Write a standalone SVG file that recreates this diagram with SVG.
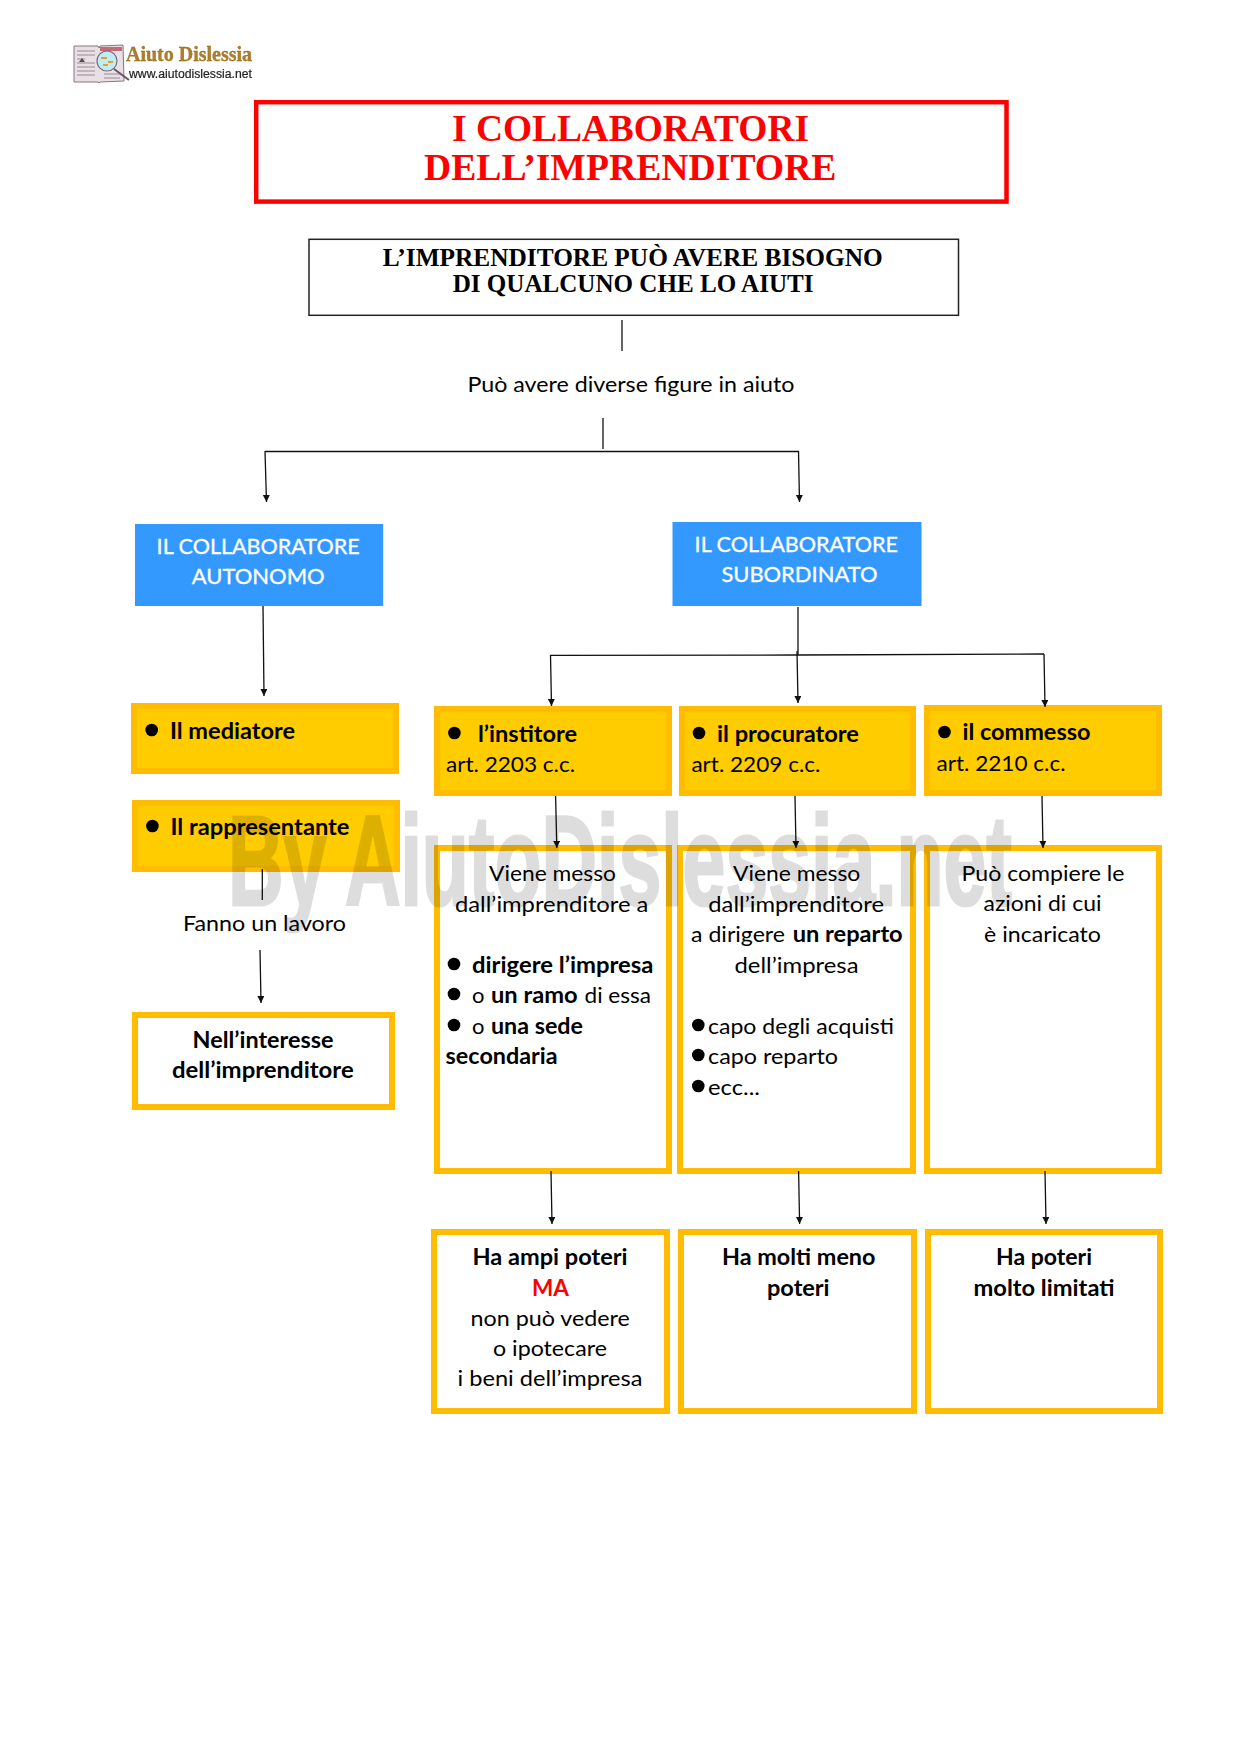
<svg xmlns="http://www.w3.org/2000/svg" width="1238" height="1751" viewBox="0 0 1238 1751">
<style>
text{font-family:"Lato","Carlito","Liberation Sans",sans-serif;font-size:22px;fill:#000}
.b{font-weight:700}
.w{fill:#fff;stroke:#fff;stroke-width:.35}
.r{font-family:"Liberation Serif","Times New Roman",serif;font-weight:700}
.t{font-size:38px;fill:#f00}
.s{font-size:25px}
.y{fill:#fc0;stroke:#ffbc00;stroke-width:6}
.f{fill:#fff;stroke:#ffbc00;stroke-width:6}
.l{fill:none;stroke:#111;stroke-width:1.3}
.a{fill:none;stroke:#111;stroke-width:1.3;marker-end:url(#h)}
</style>
<defs>
<marker id="h" markerUnits="userSpaceOnUse" markerWidth="8" markerHeight="8" refX="7" refY="3.5" orient="auto"><path d="M0 0L7 3.5L0 7z" fill="#111"/></marker>
<filter id="soft"><feGaussianBlur stdDeviation="0.35"/></filter>
</defs>
<rect width="1238" height="1751" fill="#fff"/>

<g id="logo" filter="url(#soft)">
<path d="M74 46L98 46L99 48L100 46L123 45L124 81L100 82L99 83L98 82L74 82z" fill="#e8e0e4" stroke="#8a7280" stroke-width="1"/>
<path d="M77 51h18M77 55h18M77 59h8M77 63h18M77 67h18M77 71h18M77 75h18M103 50h17M104 74h16M104 78h16" stroke="#9a8a92" stroke-width="1"/>
<path d="M100 47h22v4h-22z" fill="#c56b78"/>
<path d="M79 62l3-4l3 4z" fill="#5a4a52"/>
<circle cx="107" cy="61" r="10" fill="#bfeef2" stroke="#7a6a7a" stroke-width="1.2"/>
<path d="M101 58h6M108 62h5M103 65h5" stroke="#e0a030" stroke-width="2"/>
<path d="M114 69L129 80" stroke="#70506a" stroke-width="2"/>
<text x="126" y="61" class="r" style="font-size:21px;fill:#b07e28;stroke:#8a5c18;stroke-width:.3" textLength="126" lengthAdjust="spacingAndGlyphs">Aiuto Dislessia</text>
<text x="129" y="78" style="font-family:'Liberation Sans',sans-serif;font-size:12px;fill:#222;stroke:#222;stroke-width:.2" textLength="123" lengthAdjust="spacingAndGlyphs">www.aiutodislessia.net</text>
</g>

<g id="title">
<rect x="256.2" y="102.2" width="750.3" height="99.4" fill="#fff" stroke="#f00" stroke-width="4.5"/>
<text x="452" y="140.7" class="r t" textLength="357" lengthAdjust="spacingAndGlyphs">I COLLABORATORI</text>
<text x="424" y="180" class="r t" textLength="412.5" lengthAdjust="spacingAndGlyphs">DELL’IMPRENDITORE</text>
</g>

<g id="intro">
<rect x="309" y="239.3" width="649.5" height="76" fill="#fff" stroke="#222" stroke-width="1.5"/>
<text x="382.8" y="266" class="r s" textLength="500" lengthAdjust="spacingAndGlyphs">L’IMPRENDITORE PUÒ AVERE BISOGNO</text>
<text x="452.7" y="292" class="r s" textLength="360.8" lengthAdjust="spacingAndGlyphs">DI QUALCUNO CHE LO AIUTI</text>
</g>

<g id="label-figure"><text x="467.4" y="391.7" textLength="327" lengthAdjust="spacingAndGlyphs">Può avere diverse figure in aiuto</text></g>

<g id="autonomo">
<rect x="135" y="524" width="248.2" height="82" fill="#39f"/>
<text x="156.6" y="554" class="w" textLength="203" lengthAdjust="spacingAndGlyphs">IL COLLABORATORE</text>
<text x="191.8" y="583.6" class="w" textLength="132.8" lengthAdjust="spacingAndGlyphs">AUTONOMO</text>
</g>
<g id="subordinato">
<rect x="672.5" y="522" width="249" height="84" fill="#39f"/>
<text x="694.6" y="552" class="w" textLength="203.3" lengthAdjust="spacingAndGlyphs">IL COLLABORATORE</text>
<text x="721.4" y="581.7" class="w" textLength="156.1" lengthAdjust="spacingAndGlyphs">SUBORDINATO</text>
</g>

<g id="mediatore">
<rect x="134" y="706" width="262" height="65" class="y"/>
<circle cx="151.7" cy="730" r="6.3"/>
<text x="170" y="738.7" class="b" textLength="125" lengthAdjust="spacingAndGlyphs">Il mediatore</text>
</g>
<g id="rappresentante">
<rect x="135" y="803" width="262" height="66" class="y"/>
<circle cx="152.4" cy="826" r="6.3"/>
<text x="170.5" y="834.7" class="b" textLength="179" lengthAdjust="spacingAndGlyphs">Il rappresentante</text>
</g>
<g id="label-lavoro"><text x="183" y="931" textLength="163" lengthAdjust="spacingAndGlyphs">Fanno un lavoro</text></g>
<g id="interesse">
<rect x="135" y="1015" width="257" height="92" class="f"/>
<text x="192.6" y="1048" class="b" textLength="140.9" lengthAdjust="spacingAndGlyphs">Nell’interesse</text>
<text x="172" y="1078" class="b" textLength="181.7" lengthAdjust="spacingAndGlyphs">dell’imprenditore</text>
</g>

<g id="institore">
<rect x="437" y="709" width="232" height="84" class="y"/>
<circle cx="454.4" cy="733" r="6.3"/>
<text x="478" y="741.7" class="b" textLength="99" lengthAdjust="spacingAndGlyphs">l’institore</text>
<text x="446" y="771.7" textLength="129" lengthAdjust="spacingAndGlyphs">art. 2203 c.c.</text>
</g>
<g id="procuratore">
<rect x="682" y="709" width="231" height="84" class="y"/>
<circle cx="699" cy="733" r="6.3"/>
<text x="717" y="741.7" class="b" textLength="142" lengthAdjust="spacingAndGlyphs">il procuratore</text>
<text x="691.4" y="771.7" textLength="129" lengthAdjust="spacingAndGlyphs">art. 2209 c.c.</text>
</g>
<g id="commesso">
<rect x="927" y="708" width="232" height="85" class="y"/>
<circle cx="944.5" cy="732" r="6.3"/>
<text x="962.5" y="740" class="b" textLength="128" lengthAdjust="spacingAndGlyphs">il commesso</text>
<text x="936.5" y="770.7" textLength="129" lengthAdjust="spacingAndGlyphs">art. 2210 c.c.</text>
</g>

<g id="detail-institore">
<rect x="437" y="848" width="232" height="323" class="f"/>
<text x="489" y="881" textLength="127" lengthAdjust="spacingAndGlyphs">Viene messo</text>
<text x="455" y="911.5" textLength="193.4" lengthAdjust="spacingAndGlyphs">dall’imprenditore a</text>
<circle cx="454" cy="964" r="6.3"/>
<text x="472" y="972.7" class="b" textLength="181.4" lengthAdjust="spacingAndGlyphs">dirigere l’impresa</text>
<circle cx="454" cy="994" r="6.3"/>
<text x="472" y="1002.7">o</text>
<text x="491" y="1002.7" class="b" textLength="86.6" lengthAdjust="spacingAndGlyphs">un ramo</text>
<text x="584.5" y="1002.7" textLength="66.5" lengthAdjust="spacingAndGlyphs">di essa</text>
<circle cx="454" cy="1025" r="6.3"/>
<text x="472" y="1033.8">o</text>
<text x="491" y="1033.8" class="b" textLength="92" lengthAdjust="spacingAndGlyphs">una sede</text>
<text x="445.6" y="1063.8" class="b" textLength="112" lengthAdjust="spacingAndGlyphs">secondaria</text>
</g>
<g id="detail-procuratore">
<rect x="680" y="848" width="233" height="323" class="f"/>
<text x="733" y="880.7" textLength="127.3" lengthAdjust="spacingAndGlyphs">Viene messo</text>
<text x="708.3" y="911.8" textLength="175.7" lengthAdjust="spacingAndGlyphs">dall’imprenditore</text>
<text x="691" y="941.7" textLength="94" lengthAdjust="spacingAndGlyphs">a dirigere</text>
<text x="792.7" y="941.7" class="b" textLength="110" lengthAdjust="spacingAndGlyphs">un reparto</text>
<text x="734.5" y="972.8" textLength="124" lengthAdjust="spacingAndGlyphs">dell’impresa</text>
<circle cx="698.3" cy="1025" r="6.3"/>
<text x="708" y="1033.6" textLength="186" lengthAdjust="spacingAndGlyphs">capo degli acquisti</text>
<circle cx="698.3" cy="1055" r="6.3"/>
<text x="708" y="1063.7" textLength="130" lengthAdjust="spacingAndGlyphs">capo reparto</text>
<circle cx="698.3" cy="1086" r="6.3"/>
<text x="708" y="1094.7" textLength="52" lengthAdjust="spacingAndGlyphs">ecc...</text>
</g>
<g id="detail-commesso">
<rect x="927" y="848" width="232" height="323" class="f"/>
<text x="961.5" y="880.7" textLength="163" lengthAdjust="spacingAndGlyphs">Può compiere le</text>
<text x="983.5" y="911.3" textLength="118" lengthAdjust="spacingAndGlyphs">azioni di cui</text>
<text x="984" y="941.7" textLength="117" lengthAdjust="spacingAndGlyphs">è incaricato</text>
</g>

<g id="poteri-institore">
<rect x="434" y="1232" width="233" height="179" class="f"/>
<text x="472.5" y="1265" class="b" textLength="155" lengthAdjust="spacingAndGlyphs">Ha ampi poteri</text>
<text x="532" y="1295.5" class="b" style="fill:#f00" textLength="37" lengthAdjust="spacingAndGlyphs">MA</text>
<text x="470.5" y="1325.7" textLength="159.4" lengthAdjust="spacingAndGlyphs">non può vedere</text>
<text x="493" y="1355.7" textLength="113.9" lengthAdjust="spacingAndGlyphs">o ipotecare</text>
<text x="457.5" y="1386" textLength="185" lengthAdjust="spacingAndGlyphs">i beni dell’impresa</text>
</g>
<g id="poteri-procuratore">
<rect x="681" y="1232" width="233" height="179" class="f"/>
<text x="722" y="1265" class="b" textLength="153.5" lengthAdjust="spacingAndGlyphs">Ha molti meno</text>
<text x="767" y="1295.5" class="b" textLength="62.6" lengthAdjust="spacingAndGlyphs">poteri</text>
</g>
<g id="poteri-commesso">
<rect x="928" y="1232" width="232" height="179" class="f"/>
<text x="996" y="1265" class="b" textLength="96" lengthAdjust="spacingAndGlyphs">Ha poteri</text>
<text x="973.5" y="1295.5" class="b" textLength="141" lengthAdjust="spacingAndGlyphs">molto limitati</text>
</g>

<g id="connectors">
<path class="l" d="M622 320V351"/>
<path class="l" d="M603 418V449"/>
<path class="l" d="M265 451.5H799"/>
<path class="a" d="M265 451L266.5 502"/>
<path class="a" d="M798.5 451L799.5 502"/>
<path class="a" d="M263 606L264 696"/>
<path class="l" d="M262.3 869V900"/>
<path class="a" d="M260 950L261 1003"/>
<path class="l" d="M798 607V655"/>
<path class="l" d="M550 655.3L797 655L1044 654"/>
<path class="a" d="M550.5 655L551.5 706"/>
<path class="a" d="M797 651L798 703"/>
<path class="a" d="M1044 654L1045 707"/>
<path class="a" d="M555.6 796L556.8 848"/>
<path class="a" d="M795 796L796 848"/>
<path class="a" d="M1042 796L1043 848"/>
<path class="a" d="M551 1171L552 1224"/>
<path class="a" d="M798.6 1171L799.6 1224"/>
<path class="a" d="M1045 1171L1046 1224"/>
</g>

<text id="watermark" x="228" y="905" opacity=".13" style="font-family:'Liberation Sans',sans-serif;font-size:128px;font-weight:700;fill:#000;stroke:#000;stroke-width:3" textLength="784" lengthAdjust="spacingAndGlyphs">By AiutoDislessia.net</text>
</svg>
